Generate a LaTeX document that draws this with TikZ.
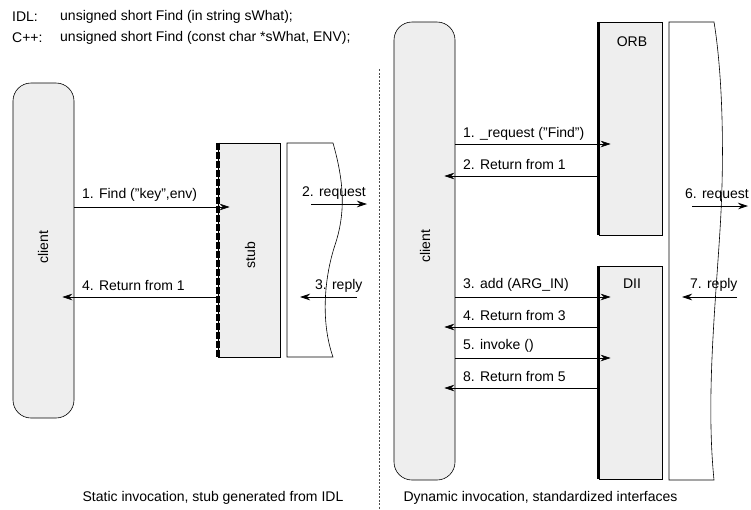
\documentclass[tikz,border=0pt]{standalone}
\usepackage{fontspec}
\setmainfont{Liberation Sans}
\usetikzlibrary{arrows.meta}
\definecolor{boxgray}{HTML}{EEEEEE}
\begin{document}
\begin{tikzpicture}[x=1pt,y=-1pt,
  txt/.style={font=\fontsize{14}{16}\selectfont, inner sep=0pt},
  lbl/.style={txt, anchor=west},
  hdr/.style={font=\fontsize{14}{16}\selectfont, inner sep=0pt, anchor=west},
  msg/.style={-{Stealth[length=10pt,width=6.5pt]}, line width=0.7pt},
  client/.style={draw, line width=0.6pt, fill=boxgray, rounded corners=18pt, minimum width=61pt, inner sep=0pt},
  gbox/.style={draw, line width=0.6pt, fill=boxgray, minimum width=62pt, inner sep=0pt},
  wave/.style={draw, line width=0.6pt, fill=white}
]
\useasboundingbox (0,0) rectangle (751,509);

% header
\node[hdr] (idl) at (12,17) {IDL:};
\node[hdr] (idlsig) at (60,17) {unsigned short Find (in string sWhat);};
\node[hdr] (cpp) at (12,38) {C++:};
\node[hdr] (cppsig) at (60,38) {unsigned short Find (const char *sWhat, ENV);};

% divider
\coordinate (divtop) at (379,69);
\coordinate (divbot) at (379,509);
\draw[line width=0.5pt, dash pattern=on 2pt off 1.5pt, black!70] (divtop) -- (divbot);

% ---------- left: static invocation ----------
\node[client, minimum height=335pt] (clientL) at (43.5,250.5) {};
\node[txt, rotate=90] (clientLtxt) at (43,247) {client};

\node[gbox, minimum height=214pt] (stub) at (249,250) {};
\draw[line width=4pt, dash pattern=on 7pt off 2pt] (stub.north west) -- (stub.south west);
\node[txt, rotate=90] (stubtxt) at (250,255) {stub};

\path[wave] (287,143) -- (333,143)
  .. controls (345,185) and (345,215) .. (335,245)
  .. controls (325,275) and (320,320) .. (333,357)
  -- (287,357) -- cycle;

\draw[msg] (clientL.east |- 0,207) -- ([xshift=12pt]stub.west |- 0,207);
\node[lbl] (l1) at (82,195) {1. Find ("key",env)};
\draw[msg] (stub.west |- 0,297) -- ([xshift=-12pt]clientL.east |- 0,297);
\node[lbl] (l4) at (82,285) {4. Return from 1};

\coordinate (reqLa) at (311,204);
\coordinate (reqLb) at (367,204);
\draw[msg] (reqLa) -- (reqLb);
\node[lbl] (l2) at (302,193) {2. request};
\coordinate (repLa) at (357,297);
\coordinate (repLb) at (300,297);
\draw[msg] (repLa) -- (repLb);
\node[lbl] (l3) at (315,286) {3. reply};

\node[txt] (capL) at (213,498) {Static invocation, stub generated from IDL};

% ---------- right: dynamic invocation ----------
\node[client, minimum height=458pt] (clientR) at (424.5,251) {};
\node[txt, rotate=90] (clientRtxt) at (425,246) {client};

\node[gbox, minimum width=63pt, minimum height=213pt] (orb) at (630.5,128.5) {};
\draw[line width=3.5pt] (orb.north west) -- (orb.south west);
\node[txt] (orbtxt) at (632,42) {ORB};

\node[gbox, minimum width=63pt, minimum height=213pt] (dii) at (630.5,372.5) {};
\draw[line width=3.5pt] (dii.north west) -- (dii.south west);
\node[txt] (diitxt) at (632,284) {DII};

\path[wave] (669,22) -- (714,22)
  .. controls (722,70) and (725,150) .. (720,230)
  .. controls (715,310) and (706,400) .. (714,480)
  -- (669,480) -- cycle;

\draw[msg] (clientR.east |- 0,144) -- ([xshift=12pt]orb.west |- 0,144);
\node[lbl] (r1) at (463,134) {1. \_request ("Find")};
\draw[msg] (orb.west |- 0,176) -- ([xshift=-11pt]clientR.east |- 0,176);
\node[lbl] (r2) at (463,164) {2. Return from 1};

\draw[msg] (clientR.east |- 0,297) -- ([xshift=12pt]dii.west |- 0,297);
\node[lbl] (r3) at (463,285) {3. add (ARG\_IN)};
\draw[msg] (dii.west |- 0,327) -- ([xshift=-11pt]clientR.east |- 0,327);
\node[lbl] (r4) at (463,315) {4. Return from 3};
\draw[msg] (clientR.east |- 0,358) -- ([xshift=12pt]dii.west |- 0,358);
\node[lbl] (r5) at (463,346) {5. invoke ()};
\draw[msg] (dii.west |- 0,388) -- ([xshift=-11pt]clientR.east |- 0,388);
\node[lbl] (r8) at (463,376) {8. Return from 5};

\coordinate (reqRa) at (692,206);
\coordinate (reqRb) at (748,206);
\draw[msg] (reqRa) -- (reqRb);
\node[lbl] (r6) at (685,195) {6. request};
\coordinate (repRa) at (737,297);
\coordinate (repRb) at (682,297);
\draw[msg] (repRa) -- (repRb);
\node[lbl] (r7) at (690,285) {7. reply};

\node[txt] (capR) at (540.5,498) {Dynamic invocation, standardized interfaces};
\end{tikzpicture}
\end{document}
